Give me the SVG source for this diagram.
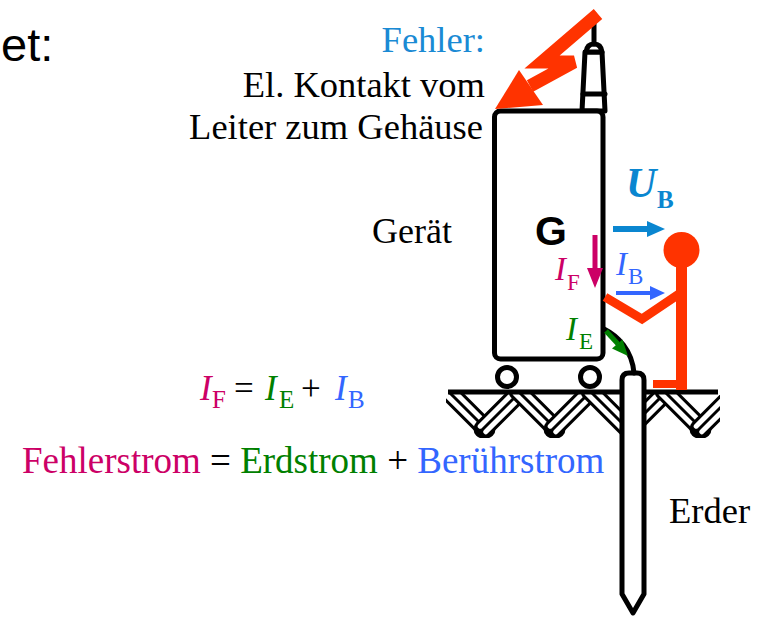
<svg xmlns="http://www.w3.org/2000/svg" xmlns:xlink="http://www.w3.org/1999/xlink" width="761" height="621" viewBox="0 0 761 621">
  <style>
    .serif { font-family: "Liberation Serif", "Times New Roman", serif; }
    .sans { font-family: "Liberation Sans", Arial, sans-serif; }
    .ink { fill: none; stroke: #000; stroke-width: 5; stroke-linejoin: round; stroke-linecap: round; }
    .solid { fill: #fff; stroke: #000; stroke-width: 5; stroke-linejoin: round; }
    .man { fill: none; stroke: #ff3300; stroke-linecap: butt; stroke-linejoin: miter; }
    .mag { fill: #cc0066; }
    .grn { fill: #008000; }
    .blu { fill: #3366ff; }
    .sky { fill: #0a86d0; }
  </style>
  <defs>
    <!-- one slanted soil band: dark body with two light stripes -->
    <g id="band">
      <line x1="-19" y1="-19" x2="19" y2="19" stroke="#000" stroke-width="19" stroke-linecap="round"/>
      <line x1="-16.2" y1="-21.8" x2="21.8" y2="16.2" stroke="#fff" stroke-width="5" stroke-linecap="round"/>
      <line x1="-21.8" y1="-16.2" x2="16.2" y2="21.8" stroke="#fff" stroke-width="5" stroke-linecap="round"/>
    </g>
    <clipPath id="soil">
      <rect x="446" y="393" width="274" height="45"/>
    </clipPath>
  </defs>

  <!-- cut-off heading text at the left -->
  <text class="sans" x="1" y="61" font-size="47">et:</text>

  <!-- ground with hatching -->
  <g id="ground">
    <g clip-path="url(#soil)">
      <use xlink:href="#band" transform="translate(467,410)"/>
      <use xlink:href="#band" transform="translate(502,410) scale(-1,1)"/>
      <use xlink:href="#band" transform="translate(537,410)"/>
      <use xlink:href="#band" transform="translate(572,410) scale(-1,1)"/>
      <use xlink:href="#band" transform="translate(609,410)"/>
      <use xlink:href="#band" transform="translate(648,410) scale(-1,1)"/>
      <use xlink:href="#band" transform="translate(683,410)"/>
      <use xlink:href="#band" transform="translate(718,410) scale(-1,1)"/>
    </g>
    <line x1="448" y1="392" x2="718" y2="392" stroke="#000" stroke-width="5"/>
  </g>

  <!-- the appliance (Gerät) -->
  <g id="geraet">
    <path class="solid" d="M582,111 L585,52 L602,52 L605,111 Z"/>
    <line class="ink" x1="583" y1="94" x2="605" y2="94"/>
    <path class="solid" d="M586,52 Q587,44 594,44 Q601,44 602,52 Z"/>
    <line class="ink" x1="594" y1="44" x2="594" y2="14"/>
    <rect class="solid" x="494.5" y="111" width="108.5" height="248" rx="6"/>
    <circle class="solid" cx="507" cy="377" r="9.5"/>
    <circle class="solid" cx="590" cy="377" r="9.5"/>
    <text class="sans" x="535" y="245" font-size="41" font-weight="bold">G</text>
  </g>

  <!-- earth electrode (Erder) -->
  <g id="erder">
    <path class="solid" stroke-width="4" d="M622,594 L622,380 Q622,373 629,373 L637,373 Q644,373 644,380 L644,594 L633,613 Z"/>
  </g>

  <!-- person touching the housing -->
  <g id="person">
    <circle cx="681.5" cy="250" r="18" fill="#ff3300"/>
    <line class="man" x1="681.5" y1="262" x2="681.5" y2="390" stroke-width="11"/>
    <line class="man" x1="653" y1="384" x2="687" y2="384" stroke-width="8"/>
    <polyline class="man" points="679,294 642,319 605,297" stroke-width="9"/>
  </g>

  <!-- connectors: fault path, bolt and current arrows -->
  <g id="connectors">
    <path class="ink" stroke-width="4" d="M604,329 C618,336 632,350 634,373"/>
    <polyline class="man" points="598,14 542,62 574,62 530,86" stroke-width="13"/>
    <polygon points="519,70 543,105 495,109" fill="#ff3300"/>

    <line x1="613" y1="229" x2="649" y2="229" stroke="#0a86d0" stroke-width="6"/>
    <polygon points="647,221 665,229 647,237" class="sky"/>

    <line x1="595" y1="235" x2="595" y2="270" stroke="#cc0066" stroke-width="5"/>
    <polygon points="587,268 603,268 595,288" class="mag"/>

    <line x1="616" y1="293" x2="652" y2="293" stroke="#3366ff" stroke-width="4"/>
    <polygon points="650,286 665,293 650,300" class="blu"/>

    <line x1="606" y1="331" x2="618" y2="344" stroke="#008000" stroke-width="5"/>
    <polygon points="612,348.5 622.5,339.5 628,356" class="grn"/>
  </g>

  <!-- labels -->
  <g id="labels" class="serif">
    <text x="485" y="52" font-size="36.5" fill="#1a8ad4" text-anchor="end">Fehler:</text>
    <text x="485" y="97" font-size="36.5" text-anchor="end">El. Kontakt vom</text>
    <text x="483" y="139" font-size="36.5" text-anchor="end">Leiter zum Gehäuse</text>
    <text x="372" y="243" font-size="36">Gerät</text>
    <text x="669" y="523" font-size="36.5">Erder</text>

    <text x="626" y="197" font-size="42" font-style="italic" font-weight="bold" fill="#0a86d0">U</text>
    <text x="657" y="208" font-size="25" font-weight="bold" fill="#0a86d0">B</text>

    <text x="555" y="280" font-size="33" font-style="italic" class="mag">I</text>
    <text x="567" y="290" font-size="23" class="mag">F</text>

    <text x="616" y="275" font-size="33" font-style="italic" class="blu">I</text>
    <text x="628" y="284" font-size="23" class="blu">B</text>

    <text x="566" y="340" font-size="33" font-style="italic" class="grn">I</text>
    <text x="579" y="349" font-size="23" class="grn">E</text>

    <text x="200" y="400" font-size="35" font-style="italic" class="mag">I</text>
    <text x="212" y="408" font-size="25" class="mag">F</text>
    <text x="234" y="400" font-size="35">=</text>
    <text x="265" y="400" font-size="35" font-style="italic" class="grn">I</text>
    <text x="279" y="408" font-size="25" class="grn">E</text>
    <text x="301" y="400" font-size="35">+</text>
    <text x="335" y="400" font-size="35" font-style="italic" class="blu">I</text>
    <text x="348" y="408" font-size="25" class="blu">B</text>

    <text x="22" y="473" font-size="37"><tspan class="mag">Fehlerstrom</tspan> = <tspan class="grn">Erdstrom</tspan> + <tspan class="blu">Berührstrom</tspan></text>
  </g>
</svg>
